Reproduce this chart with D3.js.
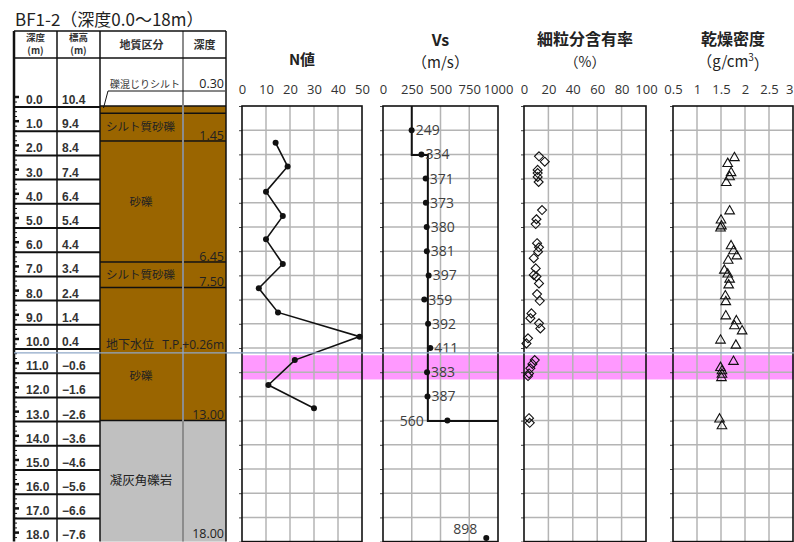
<!DOCTYPE html>
<html>
<head>
<meta charset="utf-8">
<script src="https://cdn.jsdelivr.net/npm/d3@7"></script>
<style>
  body { margin: 0; background: #fff; }
  svg { display: block; }
</style>
</head>
<body>
<div id="vis"></div>
<script>
// frame
const FRAME_WIDTH = 794
const FRAME_HEIGHT = 542

const depthLabels = ["0.0","1.0","2.0","3.0","4.0","5.0","6.0","7.0","8.0","9.0","10.0",
                     "11.0","12.0","13.0","14.0","15.0","16.0","17.0","18.0"];
const elevLabels = ["10.4","9.4","8.4","7.4","6.4","5.4","4.4","3.4","2.4","1.4","0.4",
                    "−0.6","−1.6","−2.6","−3.6","−4.6","−5.6","−6.6","−7.6"];

const layerTop    = [0, 0.30, 1.45, 6.45, 7.50, 13.00];
const layerBottom = [0.30, 1.45, 6.45, 7.50, 13.00, 18.00];
const layerName   = ["礫混じりシルト", "シルト質砂礫", "砂礫", "シルト質砂礫", "砂礫", "凝灰角礫岩"];
const layerKind   = ["soil", "soil", "soil", "soil", "soil", "rock"];

const waterDepth = 10.2;
const waterText = ["地下水位", "T.P.+0.26m"];
const bandTop = 10.3, bandBottom = 11.3;

// N value
const nDepth = [1.52, 2.50, 3.54, 4.55, 5.51, 6.53, 7.53, 8.53, 9.53, 10.50, 11.53, 12.49];
const nValue = [14, 19, 10, 17, 10, 17, 7, 15, 49, 22, 11, 30];

// Vs
const vsDepth = [1, 2, 3, 4, 5, 6, 7, 8, 9, 10, 11, 12, 13, 17.85];
const vsValue = [249, 334, 371, 373, 380, 381, 397, 359, 392, 411, 383, 387, 560, 898];
const vsStepDepth = [0, 2.02, 2.02, 13.02, 13.02];
const vsStepValue = [250, 250, 390, 390, 1200];

// fines content (%) and dry density (g/cm3)
const sampleDepth = [2.08, 2.30, 2.64, 2.77, 2.93, 3.14, 4.30, 4.68, 4.88, 5.67, 5.84, 6.02,
                     6.29, 6.71, 6.98, 7.05, 7.33, 7.77, 8.05, 8.57, 8.77, 8.98, 9.19, 9.60,
                     9.81, 10.50, 10.66, 10.84, 11.05, 11.16, 12.90, 13.09];
const fcValue = [12.3, 17.0, 11.2, 11.2, 11.2, 12.0, 14.8, 10.2, 9.6, 10.7, 12.3, 11.5,
                 8.0, 9.6, 8.0, 10.2, 12.3, 10.7, 12.9, 6.1, 5.2, 12.3, 13.4, 3.3,
                 2.0, 8.8, 6.9, 5.2, 4.1, 3.3, 4.1, 4.7];
const rdDepth = [2.10, 2.34, 2.72, 2.89, 3.13, 4.30, 4.68, 4.92, 5.01, 5.74, 5.95, 6.16,
                 6.34, 6.75, 6.91, 7.12, 7.36, 7.81, 8.05, 8.64, 8.84, 9.05, 9.26, 9.64,
                 9.85, 10.52, 10.77, 10.91, 11.05, 11.19, 12.90, 13.18];
const rdValue = [1.78, 1.64, 1.71, 1.68, 1.61, 1.68, 1.50, 1.51, 1.49, 1.71, 1.76, 1.83,
                 1.65, 1.57, 1.64, 1.68, 1.66, 1.59, 1.60, 1.60, 1.82, 1.78, 1.94, 1.49,
                 1.81, 1.76, 1.49, 1.52, 1.52, 1.51, 1.47, 1.52];

// axis ticks
const nTicks  = [0, 10, 20, 30, 40, 50];
const vsTicks = [0, 250, 500, 750, 1000];
const fcTicks = [0, 20, 40, 60, 80, 100];
const rdTicks = [0.5, 1, 1.5, 2, 2.5, 3];
const rdTickLabels = ["0.5", "1", "1.5", "2", "2.5", "3"];

// ---- styles ----
const JP = "'Noto Sans CJK JP', 'Noto Sans', sans-serif";
const NUM = "'Open Sans', 'Liberation Sans', sans-serif";
const GRID = "#b4b4b4";
const BROWN = "#9a6500";
const ROCK = "#c0c0c0";

const svg = d3.select('#vis')
              .append('svg')
              .attr('width', FRAME_WIDTH)
              .attr('height', FRAME_HEIGHT)
              .style('font-family', JP);

// depth scale shared by every column
const y = d3.scaleLinear().domain([0, 18]).range([106, 541.6]);

// table columns
const T = {left: 14, c1: 57, c2: 100, c3: 183, right: 226, top: 31, head: 58};

// title
svg.append("text")
   .attr("x", 15).attr("y", 26)
   .attr("font-size", 17).attr("fill", "#222")
   .text("BF1-2（深度0.0～18m）");

// ---- geology column ----
const layers = layerTop.map((t, i) => ({top: t, bottom: layerBottom[i], name: layerName[i], kind: layerKind[i]}));

svg.append("g").selectAll("rect")
   .data(layers).join("rect")
   .attr("x", T.c2).attr("width", T.right - T.c2)
   .attr("y", d => y(d.top))
   .attr("height", d => y(d.bottom) - y(d.top))
   .attr("fill", d => d.kind == "rock" ? ROCK : BROWN);

// layer boundary lines
svg.append("g").selectAll("line")
   .data(layers).join("line")
   .attr("x1", T.c2).attr("x2", T.right)
   .attr("y1", d => y(d.top)).attr("y2", d => y(d.top))
   .attr("stroke", "#111").attr("stroke-width", 1.5);

// gray divider between geology name and depth
svg.append("line")
   .attr("x1", T.c3).attr("x2", T.c3).attr("y1", T.top).attr("y2", y(18))
   .attr("stroke", "#8c8c8c").attr("stroke-width", 2);

// first thin layer: label above with a leader
svg.append("line").attr("x1", 108).attr("x2", T.right - 1).attr("y1", 91).attr("y2", 91)
   .attr("stroke", "#111").attr("stroke-width", 1);
svg.append("line").attr("x1", 108).attr("x2", 103.5).attr("y1", 91).attr("y2", 108)
   .attr("stroke", "#111").attr("stroke-width", 1);
svg.append("text").attr("x", 110).attr("y", 88).attr("font-size", 10).attr("fill", "#333")
   .text(layers[0].name);

// other layer names
const nameAt = [null, {x: 106, a: "start", d: null}, {x: 141, a: "middle", d: null},
                {x: 106, a: "start", d: null}, {x: 141, a: "middle", d: 11.15},
                {x: 141, a: "middle", d: null}];
layers.forEach((L, i) => {
  if (i == 0) return;
  const p = nameAt[i];
  const yy = p.d == null ? (y(L.top) + y(L.bottom)) / 2 : y(p.d);
  svg.append("text")
     .attr("x", p.x).attr("y", yy).attr("dy", "0.35em")
     .attr("text-anchor", p.a)
     .attr("font-size", i == 5 ? 12.5 : 11.5).attr("fill", "#222")
     .text(L.name);
});

// layer bottom depths
svg.append("g").selectAll("text")
   .data(layers).join("text")
   .attr("x", T.right - 2)
   .attr("y", (d, i) => i == 0 ? 88 : Math.min(y(d.bottom) - 1.5, FRAME_HEIGHT - 4))
   .attr("text-anchor", "end")
   .attr("font-family", NUM).attr("font-size", 12.5).attr("fill", "#222")
   .text(d => d.bottom.toFixed(2));

// groundwater label
svg.append("text").attr("x", 106).attr("y", y(waterDepth) - 4)
   .attr("font-size", 12).attr("fill", "#222").text(waterText[0]);
svg.append("text").attr("x", T.right - 2).attr("y", y(waterDepth) - 4)
   .attr("text-anchor", "end").attr("font-family", NUM)
   .attr("font-size", 12).attr("fill", "#222").text(waterText[1]);

// ---- depth / elevation columns ----
// row lines
svg.append("g").selectAll("line")
   .data(depthLabels.slice(0, -1)).join("line")
   .attr("x1", T.left).attr("x2", T.c2)
   .attr("y1", (d, i) => y(i) + 1).attr("y2", (d, i) => y(i) + 1)
   .attr("stroke", "#111").attr("stroke-width", 2);

svg.append("g").selectAll("text")
   .data(depthLabels).join("text")
   .attr("x", 26).attr("y", (d, i) => Math.min(y(i) - 2, FRAME_HEIGHT - 3))
   .attr("font-family", "'Liberation Sans', sans-serif").attr("font-weight", "bold")
   .attr("font-size", 12).attr("fill", "#333")
   .text(d => d);

svg.append("g").selectAll("text")
   .data(elevLabels).join("text")
   .attr("x", 62).attr("y", (d, i) => Math.min(y(i) - 2, FRAME_HEIGHT - 3))
   .attr("font-family", "'Liberation Sans', sans-serif").attr("font-weight", "bold")
   .attr("font-size", 12).attr("fill", "#333")
   .text(d => d);

// ruler ticks on the left edge
svg.append("g").selectAll("line")
   .data(d3.range(0, 18.01, 0.2)).join("line")
   .attr("x1", T.left).attr("x2", T.left + 3)
   .attr("y1", d => y(d) - 4).attr("y2", d => y(d) - 4)
   .attr("stroke", "#111").attr("stroke-width", 1);
svg.append("g").selectAll("line")
   .data(depthLabels).join("line")
   .attr("x1", T.left).attr("x2", T.left + 5)
   .attr("y1", (d, i) => y(i) - 9).attr("y2", (d, i) => y(i) - 9)
   .attr("stroke", "#111").attr("stroke-width", 2.5);

// table frame and header
svg.append("g").selectAll("line")
   .data([[T.left, T.top, T.right, T.top], [T.left, T.head, T.right, T.head],
          [T.left, T.top, T.left, y(18)], [T.c1, T.top, T.c1, y(18)],
          [T.c2, T.top, T.c2, y(18)], [T.right, T.top, T.right, y(18)]])
   .join("line")
   .attr("x1", d => d[0]).attr("y1", d => d[1]).attr("x2", d => d[2]).attr("y2", d => d[3])
   .attr("stroke", "#111").attr("stroke-width", (d, i) => i == 2 ? 2.5 : 1.5);

const headers = [
  {x: (T.left + T.c1) / 2, lines: ["深度", "(m)"]},
  {x: (T.c1 + T.c2) / 2, lines: ["標高", "(m)"]},
  {x: (T.c2 + T.c3) / 2, lines: ["地質区分"]},
  {x: (T.c3 + T.right) / 2, lines: ["深度"]}
];
headers.forEach(h => {
  h.lines.forEach((s, j) => {
    svg.append("text")
       .attr("x", h.x)
       .attr("y", h.lines.length == 1 ? 45 : 37.5 + j * 13)
       .attr("dy", "0.35em").attr("text-anchor", "middle")
       .attr("font-size", h.lines.length == 1 ? 11 : 9.5)
       .attr("font-weight", "bold").attr("fill", "#333")
       .text(s);
  });
});

// ---- plot panels ----
const xN  = d3.scaleLinear().domain([0, 50]).range([242, 362]);
const xVs = d3.scaleLinear().domain([0, 1000]).range([383, 498]);
const xFc = d3.scaleLinear().domain([0, 100]).range([524, 646]);
const xRd = d3.scaleLinear().domain([0.5, 3]).range([673, 793]);

// highlighted band across all plots
svg.append("rect")
   .attr("x", xN.range()[0]).attr("width", FRAME_WIDTH - xN.range()[0])
   .attr("y", y(bandTop)).attr("height", y(bandBottom) - y(bandTop))
   .attr("fill", "#ff99ff");

function drawPanel(x, ticks, labels) {
  const [x0, x1] = x.range();
  const g = svg.append("g");
  g.selectAll(".gv").data(ticks.slice(1, -1)).join("line")
   .attr("x1", d => x(d)).attr("x2", d => x(d))
   .attr("y1", y(0)).attr("y2", y(18))
   .attr("stroke", GRID).attr("stroke-width", 1.5);
  g.selectAll(".gh").data(d3.range(1, 18)).join("line")
   .attr("x1", x0).attr("x2", x1)
   .attr("y1", d => y(d)).attr("y2", d => y(d))
   .attr("stroke", GRID).attr("stroke-width", 1.5);

  // little depth ticks on the left edge
  svg.append("g")
     .attr("transform", "translate(" + x0 + ",0)")
     .call(d3.axisLeft(y).tickValues(d3.range(0, 19)).tickSize(3).tickFormat(""))
     .call(a => a.select(".domain").remove())
     .selectAll("line").attr("stroke", "#444");

  // scale labels on top
  svg.append("g")
     .attr("transform", "translate(0," + y(0) + ")")
     .call(d3.axisTop(x).tickValues(ticks).tickFormat((d, i) => labels[i]).tickSize(0).tickPadding(12))
     .call(a => a.select(".domain").remove())
     .selectAll("text")
       .attr("font-family", NUM).attr("font-size", 13).attr("fill", "#333")
       .attr("text-anchor", d => x(d) > FRAME_WIDTH - 4 ? "end" : "middle");

  svg.append("rect")
     .attr("x", x0).attr("y", y(0))
     .attr("width", x1 - x0).attr("height", y(18) - y(0))
     .attr("fill", "none").attr("stroke", "#111").attr("stroke-width", 1.6);
}

drawPanel(xN, nTicks, nTicks.map(String));
drawPanel(xVs, vsTicks, vsTicks.map(String));
drawPanel(xFc, fcTicks, fcTicks.map(String));
drawPanel(xRd, rdTicks, rdTickLabels);

// panel titles
function title(x, lines) {
  const cx = (x.range()[0] + x.range()[1]) / 2;
  lines.forEach(l => {
    svg.append("text")
       .attr("x", cx).attr("y", l.y).attr("dy", "0.35em")
       .attr("text-anchor", "middle")
       .attr("font-size", l.s).attr("font-weight", l.b ? "bold" : "normal")
       .attr("fill", "#222")
       .text(l.t);
  });
}
title(xN, [{t: "N値", y: 60, s: 15, b: true}]);
title(xVs, [{t: "Vs", y: 40, s: 16, b: true}, {t: "（m/s）", y: 63, s: 15, b: false}]);
title(xFc, [{t: "細粒分含有率", y: 39, s: 16, b: true}, {t: "（%）", y: 62, s: 14, b: false}]);
svg.append("text")
   .attr("x", (xRd.range()[0] + xRd.range()[1]) / 2).attr("y", 39).attr("dy", "0.35em")
   .attr("text-anchor", "middle").attr("font-size", 16).attr("font-weight", "bold").attr("fill", "#222")
   .text("乾燥密度");
const rdUnit = svg.append("text")
   .attr("x", (xRd.range()[0] + xRd.range()[1]) / 2).attr("y", 62).attr("dy", "0.35em")
   .attr("text-anchor", "middle").attr("font-size", 15).attr("fill", "#222");
rdUnit.append("tspan").text("（g/cm");
rdUnit.append("tspan").attr("font-size", 10).attr("dy", "-0.6em").text("3");
rdUnit.append("tspan").attr("dy", "0.6em").text("）");

// ---- N value ----
const nData = nDepth.map((d, i) => ({d: d, v: nValue[i]}));
svg.append("path")
   .datum(nData)
   .attr("fill", "none").attr("stroke", "#111").attr("stroke-width", 1.6)
   .attr("d", d3.line().x(p => xN(p.v)).y(p => y(p.d)));
svg.append("g").selectAll("circle")
   .data(nData).join("circle")
   .attr("cx", p => xN(p.v)).attr("cy", p => y(p.d)).attr("r", 3)
   .attr("fill", "#111");

// ---- Vs ----
svg.append("clipPath").attr("id", "vsclip")
   .append("rect")
   .attr("x", xVs.range()[0]).attr("y", y(0))
   .attr("width", xVs.range()[1] - xVs.range()[0]).attr("height", y(18) - y(0));

svg.append("path")
   .datum(vsStepDepth.map((d, i) => ({d: d, v: vsStepValue[i]})))
   .attr("clip-path", "url(#vsclip)")
   .attr("fill", "none").attr("stroke", "#111").attr("stroke-width", 2)
   .attr("d", d3.line().x(p => xVs(p.v)).y(p => y(p.d)));

const vsData = vsDepth.map((d, i) => ({d: d, v: vsValue[i]}));
svg.append("g").selectAll("circle")
   .data(vsData).join("circle")
   .attr("cx", p => xVs(p.v)).attr("cy", p => y(p.d)).attr("r", 3)
   .attr("fill", "#111");

const lastTwo = vsData.length - 2;
svg.append("g").selectAll("text")
   .data(vsData).join("text")
   .attr("x", (p, i) => i < lastTwo ? xVs(p.v) + 4 : (i == lastTwo ? xVs(390) - 4 : xVs(p.v) - 9))
   .attr("y", (p, i) => i < vsData.length - 1 ? y(p.d) : y(p.d) - 9)
   .attr("dy", "0.35em")
   .attr("text-anchor", (p, i) => i < lastTwo ? "start" : "end")
   .attr("font-family", NUM).attr("font-size", 14).attr("fill", "#404040")
   .text(p => p.v);

// ---- fines content (diamonds) ----
svg.append("g").selectAll("path")
   .data(sampleDepth.map((d, i) => ({d: d, v: fcValue[i]}))).join("path")
   .attr("transform", p => "translate(" + xFc(p.v) + "," + y(p.d) + ")")
   .attr("d", "M0,-4.5L4.5,0L0,4.5L-4.5,0Z")
   .attr("fill", "none").attr("stroke", "#111").attr("stroke-width", 1.1);

// ---- dry density (triangles) ----
svg.append("g").selectAll("path")
   .data(rdDepth.map((d, i) => ({d: d, v: rdValue[i]}))).join("path")
   .attr("transform", p => "translate(" + xRd(p.v) + "," + y(p.d) + ")")
   .attr("d", "M0,-4.5L4.8,3.8L-4.8,3.8Z")
   .attr("fill", "none").attr("stroke", "#111").attr("stroke-width", 1.1);

// groundwater line across the whole sheet
svg.append("line")
   .attr("x1", T.left).attr("x2", FRAME_WIDTH)
   .attr("y1", y(waterDepth)).attr("y2", y(waterDepth))
   .attr("stroke", "#8fa8c8").attr("stroke-width", 1.2);
</script>
</body>
</html>
